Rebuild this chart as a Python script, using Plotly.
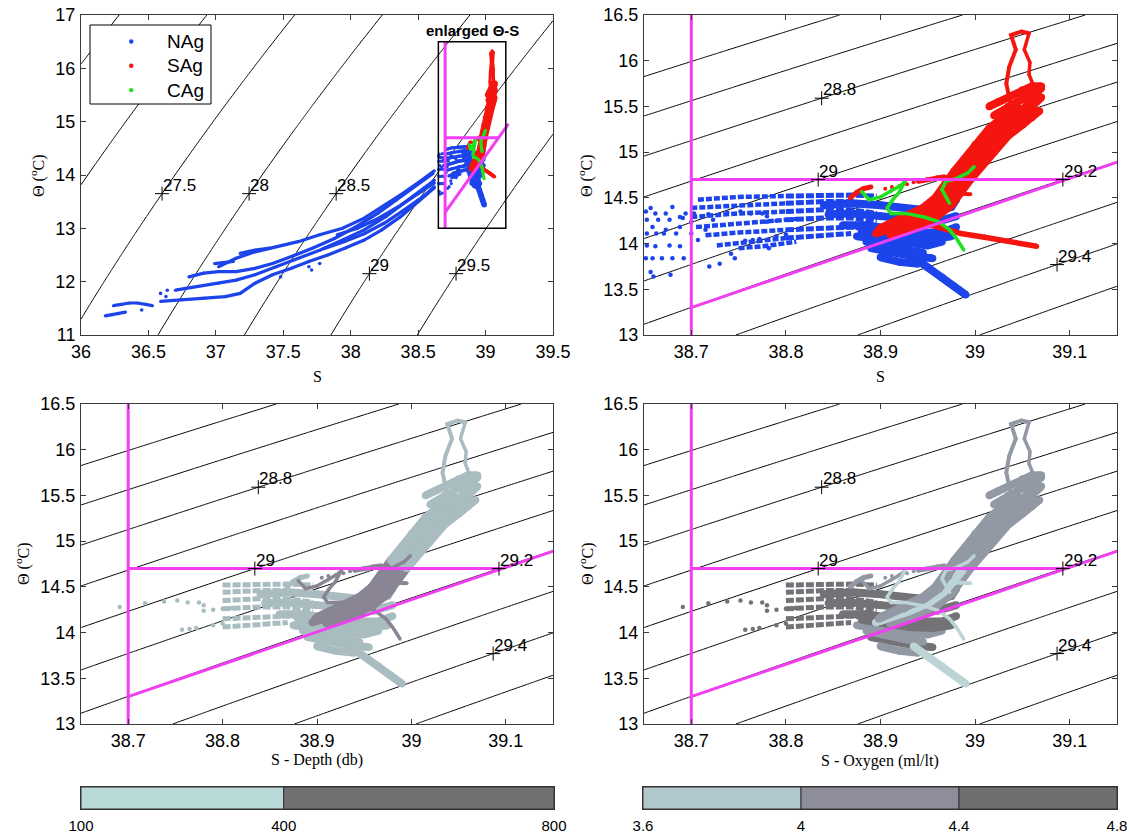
import numpy as np
import plotly.graph_objects as go

W, H = 1129, 833

def PX(x):
    return x / W

def PY(y):
    return 1 - y / H

# ------------------------------------------------------------------ data
# NAg streaks at low salinity (S, Theta)
NAG_L1_S = [36.18, 36.23, 36.28, 36.33]
NAG_L1_T = [11.36, 11.38, 11.40, 11.43]
NAG_L2_S = [36.24, 36.30, 36.36, 36.42, 36.48, 36.53]
NAG_L2_T = [11.55, 11.57, 11.60, 11.60, 11.58, 11.55]
NAG_L3_S = [36.59, 36.75, 36.91, 37.07, 37.18, 37.29, 37.42, 37.56, 37.69, 37.83, 37.96, 38.10, 38.23, 38.37, 38.50, 38.62]
NAG_L3_T = [11.63, 11.66, 11.69, 11.72, 11.78, 11.97, 12.13, 12.25, 12.38, 12.50, 12.63, 12.78, 12.97, 13.22, 13.50, 13.76]
NAG_L4_S = [36.70, 36.86, 37.02, 37.15, 37.29, 37.45, 37.61, 37.77, 37.94, 38.10, 38.26, 38.39, 38.53, 38.62]
NAG_L4_T = [11.84, 11.91, 11.97, 12.03, 12.13, 12.28, 12.44, 12.59, 12.78, 12.97, 13.22, 13.47, 13.72, 13.90]
NAG_L5_S = [36.80, 36.91, 37.02, 37.15, 37.29, 37.42, 37.56, 37.72, 37.88, 38.04, 38.20, 38.34, 38.47, 38.61]
NAG_L5_T = [12.09, 12.16, 12.19, 12.19, 12.25, 12.34, 12.47, 12.63, 12.81, 13.03, 13.28, 13.53, 13.78, 14.03]
NAG_L6_S = [37.02, 37.15, 37.29, 37.45, 37.61, 37.77, 37.94, 38.10, 38.26, 38.39, 38.53, 38.62]
NAG_L6_T = [12.28, 12.44, 12.56, 12.66, 12.75, 12.88, 13.00, 13.19, 13.44, 13.66, 13.91, 14.08]
NAG_L7_S = [37.80, 37.95, 38.10, 38.25, 38.40, 38.55, 38.62]
NAG_L7_T = [12.62, 12.75, 12.90, 13.10, 13.35, 13.62, 13.78]
NAG_L8_S = [37.90, 38.05, 38.20, 38.35, 38.50, 38.62]
NAG_L8_T = [12.88, 13.00, 13.18, 13.40, 13.65, 13.85]
NAG_L9_S = [36.99, 37.13]
NAG_L9_T = [12.34, 12.38]
NAG_L10_S = [37.18, 37.29, 37.40]
NAG_L10_T = [12.53, 12.59, 12.63]
NAG_LDOT_S = [36.59, 36.63, 36.64, 37.48, 37.69, 37.71, 37.77, 36.45]
NAG_LDOT_T = [11.78, 11.72, 11.84, 12.09, 12.28, 12.22, 12.34, 11.47]

# NAg sparse points at the western edge of the enlarged window
NAG_DOT_S = [38.652, 38.657, 38.662, 38.653, 38.659, 38.653, 38.663, 38.673, 38.653, 38.662,
             38.677, 38.688, 38.652, 38.659, 38.669, 38.680, 38.692, 38.657, 38.660, 38.678,
             38.694, 38.688, 38.700, 38.707, 38.719, 38.730, 38.746, 38.782, 38.723, 38.715,
             38.742, 38.673, 38.680, 38.665, 38.671, 38.684, 38.677, 38.703, 38.700, 38.688]
NAG_DOT_T = [14.35, 14.39, 14.33, 14.26, 14.18, 14.11, 14.11, 14.15, 13.98, 13.97,
             13.98, 13.97, 13.84, 13.84, 13.84, 13.84, 13.84, 13.69, 13.64, 13.66,
             14.33, 14.29, 14.11, 14.04, 13.75, 13.78, 13.84, 13.95, 14.26, 14.15,
             13.89, 14.33, 14.40, 14.26, 14.11, 14.11, 14.26, 14.33, 14.24, 14.18]
# NAg points that also carry depth / oxygen values
NAG_DEEP_S = [38.691, 38.718, 38.738, 38.752, 38.763, 38.775, 38.780, 38.757, 38.765, 38.772,
              38.790, 38.800, 38.780, 38.790, 38.800, 38.810]
NAG_DEEP_T = [14.28, 14.32, 14.34, 14.35, 14.33, 14.33, 14.30, 14.03, 14.04, 14.05,
              14.08, 14.10, 14.24, 14.25, 14.26, 14.27]

# NAg dense rows (west part, S < 38.8) and core (S >= 38.8)
NAG_RW1_S = [38.707, 38.750, 38.800];  NAG_RW1_T = [14.48, 14.51, 14.52]
NAG_RW2_S = [38.700, 38.750, 38.800];  NAG_RW2_T = [14.39, 14.42, 14.44]
NAG_RW3_S = [38.700, 38.750, 38.800];  NAG_RW3_T = [14.29, 14.33, 14.35]
NAG_RW4_S = [38.705, 38.750, 38.800];  NAG_RW4_T = [14.18, 14.22, 14.26]
NAG_RW5_S = [38.715, 38.750, 38.800];  NAG_RW5_T = [14.09, 14.12, 14.15]
NAG_RW6_S = [38.727, 38.760, 38.800];  NAG_RW6_T = [13.98, 14.02, 14.06]
NAG_RW7_S = [38.750, 38.776, 38.811];  NAG_RW7_T = [13.95, 13.97, 14.02]
NAG_RC1_S = [38.800, 38.840, 38.869, 38.896]; NAG_RC1_T = [14.52, 14.53, 14.53, 14.52]
NAG_RC2_S = [38.800, 38.840, 38.869, 38.896]; NAG_RC2_T = [14.44, 14.46, 14.46, 14.42]
NAG_RC3_S = [38.800, 38.840, 38.869, 38.896]; NAG_RC3_T = [14.35, 14.37, 14.37, 14.33]
NAG_RC4_S = [38.800, 38.840, 38.869, 38.896]; NAG_RC4_T = [14.26, 14.28, 14.28, 14.24]
NAG_RC5_S = [38.800, 38.840, 38.869, 38.896]; NAG_RC5_T = [14.15, 14.17, 14.18, 14.15]
NAG_RC6_S = [38.800, 38.840, 38.869];         NAG_RC6_T = [14.06, 14.09, 14.11]

# NAg cluster and tail
NAG_C1_S = [38.840, 38.870, 38.900, 38.930, 38.960, 38.975, 38.980]
NAG_C1_T = [14.42, 14.44, 14.42, 14.38, 14.35, 14.40, 14.48]
NAG_C2_S = [38.845, 38.870, 38.900, 38.930, 38.960, 38.980]
NAG_C2_T = [14.32, 14.33, 14.30, 14.27, 14.24, 14.30]
NAG_C3_S = [38.860, 38.885, 38.910, 38.940, 38.965, 38.980]
NAG_C3_T = [14.20, 14.20, 14.16, 14.12, 14.12, 14.18]
NAG_C4_S = [38.875, 38.900, 38.925, 38.950, 38.965]
NAG_C4_T = [14.08, 14.04, 14.00, 13.98, 14.02]
NAG_C5_S = [38.890, 38.910, 38.935, 38.955]
NAG_C5_T = [13.95, 13.90, 13.86, 13.84]
NAG_C6_S = [38.900, 38.920, 38.940]
NAG_C6_T = [13.85, 13.80, 13.78]
NAG_C7_S = [38.880, 38.905, 38.930, 38.955, 38.975]
NAG_C7_T = [14.14, 14.10, 14.06, 14.05, 14.08]
NAG_C8_S = [38.885, 38.905, 38.925, 38.945]
NAG_C8_T = [14.02, 13.97, 13.93, 13.90]
NAG_TAIL_S = [38.935, 38.950, 38.965, 38.978, 38.990]
NAG_TAIL_T = [13.85, 13.74, 13.63, 13.53, 13.44]

# SAg main band (lower part below 14.7 and upper part)
SAG_B1_S = [38.895, 38.926, 38.946, 38.961, 38.973, 38.984]
SAG_B1_T = [14.11, 14.22, 14.33, 14.44, 14.59, 14.73]
SAG_B2_S = [38.900, 38.925, 38.945, 38.958, 38.968, 38.978]
SAG_B2_T = [14.17, 14.28, 14.39, 14.50, 14.64, 14.79]
SAG_B3_S = [38.910, 38.940, 38.960, 38.975, 38.985, 38.995]
SAG_B3_T = [14.10, 14.20, 14.30, 14.42, 14.56, 14.70]
SAG_B4_S = [38.900, 38.930, 38.952, 38.967, 38.979, 38.990]
SAG_B4_T = [14.13, 14.23, 14.33, 14.44, 14.58, 14.72]
SAG_B5_S = [38.898, 38.925, 38.947, 38.962, 38.972, 38.980]
SAG_B5_T = [14.15, 14.26, 14.37, 14.48, 14.62, 14.76]
SAG_U1_S = [38.984, 38.996, 39.007, 39.022, 39.034, 39.049, 39.061]
SAG_U1_T = [14.73, 14.88, 15.02, 15.21, 15.31, 15.46, 15.57]
SAG_U2_S = [38.978, 38.990, 39.000, 39.015, 39.028, 39.042]
SAG_U2_T = [14.79, 14.94, 15.08, 15.26, 15.37, 15.50]
SAG_U3_S = [38.995, 39.007, 39.020, 39.035, 39.050, 39.065]
SAG_U3_T = [14.70, 14.85, 15.00, 15.18, 15.30, 15.45]
SAG_U4_S = [38.990, 39.002, 39.014, 39.029, 39.042, 39.057]
SAG_U4_T = [14.72, 14.87, 15.01, 15.20, 15.31, 15.46]
SAG_U5_S = [38.981, 38.993, 39.004, 39.019, 39.031, 39.046]
SAG_U5_T = [14.76, 14.91, 15.05, 15.24, 15.34, 15.48]
SAG_BL1_S = [39.020, 39.035, 39.050, 39.065, 39.070]
SAG_BL1_T = [15.40, 15.50, 15.58, 15.65, 15.70]
SAG_BL2_S = [39.030, 39.045, 39.060, 39.070]
SAG_BL2_T = [15.35, 15.42, 15.50, 15.60]
SAG_BL3_S = [39.015, 39.025, 39.040, 39.050, 39.060, 39.070]
SAG_BL3_T = [15.50, 15.55, 15.62, 15.68, 15.72, 15.72]
SAG_BL4_S = [39.050, 39.060, 39.068]
SAG_BL4_T = [15.30, 15.38, 15.45]
SAG_TOP1_S = [39.038, 39.033, 39.036, 39.043, 39.038, 39.049, 39.057]
SAG_TOP1_T = [15.50, 15.75, 15.93, 16.12, 16.28, 16.32, 16.30]
SAG_TOP2_S = [39.057, 39.052, 39.058, 39.057, 39.062]
SAG_TOP2_T = [16.30, 16.12, 15.98, 15.85, 15.72]
SAG_BR_S = [38.930, 38.960, 38.985, 39.010, 39.035, 39.065]
SAG_BR_T = [14.27, 14.18, 14.11, 14.07, 14.03, 13.97]
SAG_K1_S = [38.868, 38.875, 38.882, 38.890]
SAG_K1_T = [14.50, 14.56, 14.60, 14.62]
SAG_KD_S = [38.905, 38.912, 38.920, 38.928, 38.935]
SAG_KD_T = [14.60, 14.62, 14.63, 14.65, 14.67]
SAG_K2_S = [38.940, 38.950, 38.960, 38.968]
SAG_K2_T = [14.68, 14.70, 14.72, 14.73]
SAG_K3_S = [38.975, 38.985, 38.995]
SAG_K3_T = [14.55, 14.55, 14.54]

# CAg
CAG_A_S = [38.880, 38.888, 38.900, 38.911, 38.922, 38.926]
CAG_A_T = [14.57, 14.48, 14.51, 14.57, 14.64, 14.68]
CAG_B_S = [38.926, 38.919, 38.913, 38.907, 38.911, 38.926, 38.946, 38.961, 38.973, 38.980, 38.988]
CAG_B_T = [14.68, 14.55, 14.48, 14.39, 14.33, 14.33, 14.29, 14.24, 14.15, 14.06, 13.93]
CAG_C_S = [38.999, 38.992, 38.980, 38.969, 38.965, 38.971, 38.973]
CAG_C_T = [14.84, 14.77, 14.71, 14.68, 14.59, 14.48, 14.44]

# water-mass limits (magenta)
MAG_V_S = [38.70, 38.70];  MAG_V_T = [13.0, 16.5]
MAG_H_S = [38.70, 39.094]; MAG_H_T = [14.7, 14.7]
MAG_D_S = [38.70, 39.17];  MAG_D_T = [13.30, 14.96]

# isopycnal levels and labels (sigma level, theta of label)
TL_LEVELS = (26.5, 29.5, 0.5)
Z_LEVELS = (28.6, 29.5, 0.1)
TL_LAB_LEV = [27.5, 28.0, 28.5, 29.0, 29.5]
TL_LAB_T = [13.65, 13.65, 13.65, 12.15, 12.15]
Z_LAB_LEV = [28.8, 29.0, 29.2, 29.4]
Z_LAB_T = [15.59, 14.70, 14.70, 13.77]

# colour classes
DEPTH_TICKS = [100, 400, 800]
DEPTH_COLORS = ["#b9d9d9", "#707070"]
OXY_TICKS = [3.6, 4.0, 4.4, 4.8]
OXY_COLORS = ["#b0c8cb", "#8e8d9a", "#6e6e6e"]
DEPTH_PTS = ["#a9bdc1", "#8a8595"]
OXY_PTS = ["#bdd4d6", "#9299a4", "#737377"]

GROUPS = ["NAg", "SAg", "CAg"]
BLUE, RED, GREEN, MAGENTA = "#1c44ea", "#f5150f", "#1fe01f", "#f23ef2"

# ------------------------------------------------------------------ features
F = []
def feat(s, t, g, w, kind="line", bot=True, dc=0, oc=2, dash=None):
    F.append(dict(S=s, T=t, g=g, w=w, kind=kind, bot=bot, dc=dc, oc=oc, dash=dash))

for s, t in [(NAG_L1_S, NAG_L1_T), (NAG_L2_S, NAG_L2_T), (NAG_L3_S, NAG_L3_T),
             (NAG_L4_S, NAG_L4_T), (NAG_L5_S, NAG_L5_T), (NAG_L6_S, NAG_L6_T),
             (NAG_L7_S, NAG_L7_T), (NAG_L8_S, NAG_L8_T), (NAG_L9_S, NAG_L9_T),
             (NAG_L10_S, NAG_L10_T)]:
    feat(s, t, "N", 4.5, bot=False)
feat(NAG_LDOT_S, NAG_LDOT_T, "N", 5, kind="dots", bot=False)
feat(NAG_DOT_S, NAG_DOT_T, "N", 4.5, kind="dots", bot=False)
feat(NAG_DEEP_S, NAG_DEEP_T, "N", 4.5, kind="dots", dc=0, oc=2)
for s, t in [(NAG_RW1_S, NAG_RW1_T), (NAG_RW2_S, NAG_RW2_T), (NAG_RW3_S, NAG_RW3_T),
             (NAG_RW4_S, NAG_RW4_T), (NAG_RW5_S, NAG_RW5_T), (NAG_RW6_S, NAG_RW6_T),
             (NAG_RW7_S, NAG_RW7_T)]:
    feat(s, t, "N", 4.5, bot=False, dash="6px,2px")
for s, t in [(NAG_RC1_S, NAG_RC1_T), (NAG_RC2_S, NAG_RC2_T), (NAG_RC3_S, NAG_RC3_T),
             (NAG_RC4_S, NAG_RC4_T), (NAG_RC5_S, NAG_RC5_T), (NAG_RC6_S, NAG_RC6_T)]:
    feat(s, t, "N", 5, dc=0, oc=2, dash="8px,2px")
for s, t, oc in [(NAG_C1_S, NAG_C1_T, 2), (NAG_C2_S, NAG_C2_T, 2), (NAG_C3_S, NAG_C3_T, 2),
                 (NAG_C4_S, NAG_C4_T, 1), (NAG_C5_S, NAG_C5_T, 2), (NAG_C6_S, NAG_C6_T, 1),
                 (NAG_C7_S, NAG_C7_T, 2), (NAG_C8_S, NAG_C8_T, 1)]:
    feat(s, t, "N", 8, dc=0, oc=oc)
feat(NAG_TAIL_S, NAG_TAIL_T, "N", 8, dc=0, oc=0)

for s, t, oc in [(SAG_B1_S, SAG_B1_T, 0), (SAG_B2_S, SAG_B2_T, 1), (SAG_B3_S, SAG_B3_T, 1),
                 (SAG_B4_S, SAG_B4_T, 0), (SAG_B5_S, SAG_B5_T, 1)]:
    feat(s, t, "S", 8, dc=1, oc=oc)
for s, t in [(SAG_U1_S, SAG_U1_T), (SAG_U2_S, SAG_U2_T), (SAG_U3_S, SAG_U3_T),
             (SAG_U4_S, SAG_U4_T), (SAG_U5_S, SAG_U5_T),
             (SAG_BL1_S, SAG_BL1_T), (SAG_BL2_S, SAG_BL2_T), (SAG_BL3_S, SAG_BL3_T),
             (SAG_BL4_S, SAG_BL4_T)]:
    feat(s, t, "S", 8, dc=0, oc=1)
feat(SAG_TOP1_S, SAG_TOP1_T, "S", 4, dc=0, oc=1)
feat(SAG_TOP2_S, SAG_TOP2_T, "S", 3.5, dc=0, oc=1)
feat(SAG_BR_S, SAG_BR_T, "S", 5.5, bot=False)
feat(SAG_K1_S, SAG_K1_T, "S", 5, dc=0, oc=1)
feat(SAG_KD_S, SAG_KD_T, "S", 4, kind="dots", dc=1, oc=1)
feat(SAG_K2_S, SAG_K2_T, "S", 5, dc=1, oc=1)
feat(SAG_K3_S, SAG_K3_T, "S", 4, dc=1, oc=0)

feat(CAG_A_S, CAG_A_T, "C", 3.5, dc=1, oc=1)
feat(CAG_B_S, CAG_B_T, "C", 3.5, dc=1, oc=0)
feat(CAG_C_S, CAG_C_T, "C", 3.5, dc=1, oc=0)

GCOL = {"N": BLUE, "S": RED, "C": GREEN}

# ------------------------------------------------------------------ density
def sigma0(S, T):
    S = np.asarray(S, float); T = np.asarray(T, float)
    rw = (999.842594 + 6.793952e-2 * T - 9.095290e-3 * T**2 + 1.001685e-4 * T**3
          - 1.120083e-6 * T**4 + 6.536332e-9 * T**5)
    A = 0.824493 - 4.0899e-3 * T + 7.6438e-5 * T**2 - 8.2467e-7 * T**3 + 5.3875e-9 * T**4
    B = -5.72466e-3 + 1.0227e-4 * T - 1.6546e-6 * T**2
    return rw + A * S + B * S**1.5 + 4.8314e-4 * S**2 - 1000.0

def s_on_isopycnal(lev, T):
    lo, hi = 30.0, 42.0
    for _ in range(60):
        mid = 0.5 * (lo + hi)
        if sigma0(mid, T) < lev:
            lo = mid
        else:
            hi = mid
    return 0.5 * (lo + hi)

# ------------------------------------------------------------------ figure
fig = go.Figure()

XD_L = [PX(81), PX(553)]
XD_R = [PX(644), PX(1117)]
YD_T = [PY(335), PY(15)]
YD_B = [PY(724), PY(404)]
YD_C = [PY(809), PY(787)]

panels = {
    1: dict(xd=XD_L, yd=YD_T, xr=[36, 39.5], yr=[11, 17], xt=0.5, yt=1),
    2: dict(xd=XD_R, yd=YD_T, xr=[38.65, 39.15], yr=[13, 16.5], xt=0.1, yt=0.5),
    3: dict(xd=XD_L, yd=YD_B, xr=[38.65, 39.15], yr=[13, 16.5], xt=0.1, yt=0.5),
    4: dict(xd=XD_R, yd=YD_B, xr=[38.65, 39.15], yr=[13, 16.5], xt=0.1, yt=0.5),
}
TICKFONT = dict(family="Liberation Sans, Arial", size=18, color="black")
AXCOL = "#3a3a3a"

def ax_names(i):
    return ("x" if i == 1 else f"x{i}"), ("y" if i == 1 else f"y{i}")

layout_axes = {}
for i, p in panels.items():
    xn, yn = ax_names(i)
    xkey = "xaxis" if i == 1 else f"xaxis{i}"
    ykey = "yaxis" if i == 1 else f"yaxis{i}"
    layout_axes[xkey] = dict(domain=p["xd"], range=p["xr"], anchor=yn, dtick=p["xt"],
                             tick0=36, ticks="inside", ticklen=5, tickcolor=AXCOL,
                             showline=True, mirror="ticks", linecolor=AXCOL, linewidth=1,
                             showgrid=False, zeroline=False, tickfont=TICKFONT,
                             ticklabelstandoff=0, automargin=False, ticklabeloverflow="allow")
    layout_axes[ykey] = dict(domain=p["yd"], range=p["yr"], anchor=xn, dtick=p["yt"],
                             tick0=0, ticks="inside", ticklen=5, tickcolor=AXCOL,
                             showline=True, mirror="ticks", linecolor=AXCOL, linewidth=1,
                             showgrid=False, zeroline=False, tickfont=TICKFONT,
                             ticklabelstandoff=1, automargin=False, ticklabeloverflow="allow")

def add_features(i, scale, colorer, bottom, zoom):
    xn, yn = ax_names(i)
    for f in F:
        if bottom and not f["bot"]:
            continue
        col = colorer(f)
        w = max(f["w"] * scale, 3.2)
        if f["kind"] == "dots":
            fig.add_trace(go.Scatter(x=f["S"], y=f["T"], mode="markers", xaxis=xn, yaxis=yn,
                                     marker=dict(color=col, size=w, line=dict(width=0)),
                                     showlegend=False, hoverinfo="skip"))
        else:
            dash = f["dash"] if (zoom and f["dash"]) else "solid"
            mode = "lines" if dash != "solid" else "lines+markers"
            fig.add_trace(go.Scatter(x=f["S"], y=f["T"], mode=mode, xaxis=xn, yaxis=yn,
                                     line=dict(color=col, width=w, dash=dash),
                                     marker=dict(color=col, size=w * 0.95, line=dict(width=0)),
                                     showlegend=False, hoverinfo="skip"))

F.sort(key=lambda f: {"N": 0, "S": 1, "C": 2}[f["g"]])

add_features(1, 0.72, lambda f: GCOL[f["g"]], False, False)
add_features(2, 1.0, lambda f: GCOL[f["g"]], False, True)
add_features(3, 1.0, lambda f: DEPTH_PTS[f["dc"]], True, True)
add_features(4, 1.0, lambda f: OXY_PTS[f["oc"]], True, True)

# isopycnals
for i, p in panels.items():
    xn, yn = ax_names(i)
    sg = np.linspace(p["xr"][0], p["xr"][1], 160)
    tg = np.linspace(p["yr"][0], p["yr"][1], 160)
    SS, TT = np.meshgrid(sg, tg)
    Z = sigma0(SS, TT)
    a, b, c = TL_LEVELS if i == 1 else Z_LEVELS
    cont = dict(start=a, end=b + 1e-6, size=c, coloring="none", showlabels=False)
    fig.add_trace(go.Contour(x=sg, y=tg, z=Z, xaxis=xn, yaxis=yn, contours=cont,
                             line=dict(color="black", width=1), showscale=False,
                             hoverinfo="skip", showlegend=False))

# magenta lines
for i in panels:
    xn, yn = ax_names(i)
    for s, t in [(MAG_V_S, MAG_V_T), (MAG_H_S, MAG_H_T), (MAG_D_S, MAG_D_T)]:
        fig.add_trace(go.Scatter(x=s, y=t, mode="lines", xaxis=xn, yaxis=yn,
                                 line=dict(color=MAGENTA, width=3), showlegend=False,
                                 hoverinfo="skip"))

# contour labels
annotations = []
shapes = []
LABFONT = dict(family="Liberation Sans, Arial", size=17, color="black")
for i in panels:
    xn, yn = ax_names(i)
    levs, ts = (TL_LAB_LEV, TL_LAB_T) if i == 1 else (Z_LAB_LEV, Z_LAB_T)
    ss = [s_on_isopycnal(l, t) for l, t in zip(levs, ts)]
    fig.add_trace(go.Scatter(x=ss, y=ts, mode="markers", xaxis=xn, yaxis=yn,
                             marker=dict(symbol="cross-thin", size=10, color="black",
                                         line=dict(width=1, color="black")),
                             showlegend=False, hoverinfo="skip"))
    for s, t, l in zip(ss, ts, levs):
        annotations.append(dict(x=s, y=t, xref=xn, yref=yn, text=f"{l:g}", showarrow=False,
                                xanchor="left", yanchor="bottom", xshift=-1, yshift=-3,
                                font=LABFONT))

# enlarged box in overview
shapes.append(dict(type="rect", xref="x", yref="y", x0=38.65, x1=39.15, y0=13.0, y1=16.5,
                   line=dict(color="black", width=1.5)))
annotations.append(dict(x=38.9, y=16.5, xref="x", yref="y", text="<b>enlarged Θ-S</b>",
                        showarrow=False, yanchor="bottom", yshift=1,
                        font=dict(family="Liberation Sans, Arial", size=15, color="black")))

# legend (box, symbols, names)
shapes.append(dict(type="rect", xref="paper", yref="paper", x0=PX(90), x1=PX(211),
                   y0=PY(104), y1=PY(25), line=dict(color="black", width=1),
                   fillcolor="white", layer="above"))
for k, (name, col) in enumerate(zip(GROUPS, [BLUE, RED, GREEN])):
    yc = 41.5 + 24.3 * k
    shapes.append(dict(type="circle", xref="paper", yref="paper",
                       x0=PX(129), x1=PX(133.5), y0=PY(yc + 2.2), y1=PY(yc - 2.2),
                       fillcolor=col, line=dict(width=0), layer="above"))
    annotations.append(dict(x=PX(165), y=PY(yc), xref="paper", yref="paper", text=name,
                            showarrow=False, xanchor="left", yanchor="middle",
                            font=dict(family="Liberation Sans, Arial", size=19, color="black")))

# axis titles
TITLEFONT = dict(family="Liberation Serif, Times New Roman", size=16, color="black")
def title_ann(text, x, y, angle=0):
    annotations.append(dict(x=PX(x), y=PY(y), xref="paper", yref="paper", text=text,
                            showarrow=False, textangle=angle, font=TITLEFONT,
                            xanchor="center", yanchor="middle"))

title_ann("S", 317, 376)
title_ann("S", 880, 376)
title_ann("S - Depth (db)", 317, 760)
title_ann("S - Oxygen (ml/lt)", 880, 761)
title_ann("Θ (<sup>o</sup>C)", 38, 176, -90)
title_ann("Θ (<sup>o</sup>C)", 586, 176, -90)
title_ann("Θ (<sup>o</sup>C)", 22, 564, -90)
title_ann("Θ (<sup>o</sup>C)", 586, 564, -90)

# colour bars
CBFONT = dict(family="Liberation Sans, Arial", size=15, color="black")
for k, (ticks, cols, xd) in {5: (DEPTH_TICKS, DEPTH_COLORS, [PX(81), PX(554)]),
                            6: (OXY_TICKS, OXY_COLORS, [PX(643), PX(1117)])}.items():
    for a, b, c in zip(ticks[:-1], ticks[1:], cols):
        fig.add_trace(go.Bar(x=[b - a], base=[a], y=[0], orientation="h", width=1,
                             marker=dict(color=c, line=dict(color="#333333", width=1)),
                             xaxis=f"x{k}", yaxis=f"y{k}", showlegend=False, hoverinfo="skip"))
    layout_axes[f"xaxis{k}"] = dict(domain=xd, range=[ticks[0], ticks[-1]], anchor=f"y{k}",
                                    tickvals=ticks, ticktext=[f"{v:g}" for v in ticks],
                                    ticks="", showline=True, mirror=True, linecolor="#333333",
                                    showgrid=False, zeroline=False, tickfont=CBFONT,
                                    ticklabelstandoff=3, automargin=False,
                                    ticklabeloverflow="allow")
    layout_axes[f"yaxis{k}"] = dict(domain=YD_C, range=[-0.5, 0.5], anchor=f"x{k}",
                                    showticklabels=False, ticks="", showline=True, mirror=True,
                                    linecolor="#333333", showgrid=False, zeroline=False,
                                    automargin=False)

fig.update_layout(
    width=W, height=H, margin=dict(l=0, r=0, t=0, b=0),
    paper_bgcolor="white", plot_bgcolor="white", barmode="overlay",
    annotations=annotations, shapes=shapes, showlegend=False,
    **layout_axes,
)

# the page body gets no margin so the figure fills the window exactly
fig.write_html("out.html", config={"displayModeBar": False},
               post_script="document.body.style.margin='0px';")
